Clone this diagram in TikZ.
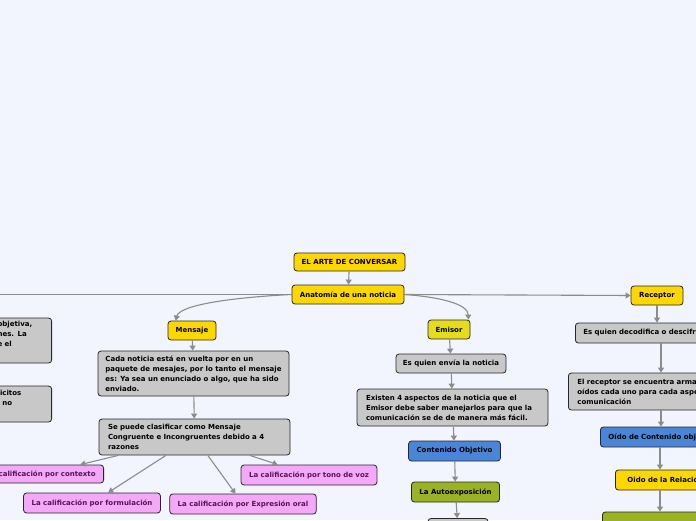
\documentclass[tikz,border=0pt]{standalone}
\usepackage{fontspec}
\setmainfont{DejaVu Sans}
\usepackage{xcolor}
\usepackage{tikz}
\usetikzlibrary{arrows.meta,positioning,calc}

\definecolor{bgcol}{RGB}{242,244,254}
\definecolor{topicyel}{RGB}{255,215,0}
\definecolor{emisyel}{RGB}{230,220,30}
\definecolor{notegray}{RGB}{200,200,200}
\definecolor{calpink}{RGB}{244,168,248}
\definecolor{caltext}{RGB}{85,20,85}
\definecolor{oidblue}{RGB}{74,134,216}
\definecolor{olive}{RGB}{154,178,36}
\definecolor{edgecol}{RGB}{40,40,40}
\definecolor{linkgray}{RGB}{140,140,140}

\begin{document}
\begin{tikzpicture}[
    x=1pt, y=-1pt,
    font=\fontsize{7}{10}\selectfont\bfseries,
    topic/.style={rectangle, rounded corners=3pt, minimum height=19pt, inner xsep=7pt, align=center, draw=edgecol, line width=0.8pt, fill=topicyel},
    note/.style={rectangle, rounded corners=3pt, align=left, draw=edgecol, line width=0.8pt, fill=notegray},
    calif/.style={rectangle, rounded corners=3pt, minimum height=20pt, inner xsep=8pt, draw=edgecol, line width=0.8pt, fill=calpink, text=caltext},
    aspect/.style={rectangle, rounded corners=3pt, minimum height=20pt, inner xsep=8pt, draw=edgecol, line width=0.8pt},
    arrow/.style={-{Triangle[width=6pt,length=5pt]}, linkgray, line width=1.1pt},
    link/.style={linkgray, line width=1.1pt},
]
\fill[bgcol] (0,0) rectangle (696,520);
\useasboundingbox (0,0) rectangle (696,520);
\clip (0,0) rectangle (696,520);

% Root
\node[topic, minimum width=111pt, minimum height=18pt] (arte) at (349.5,262) {EL ARTE DE CONVERSAR};
\node[topic, minimum width=112pt] (anat) at (348,294.5) {Anatomía de una noticia};
\draw[arrow] (arte) -- (anat);

% Branch to the left, off the page
\coordinate (leftend) at (-10,294.5);
\draw[link] (anat.west) -- (leftend);

% Left notes (cut by the page edge)
\node[note, anchor=east, text width=48pt, inner xsep=6pt, minimum height=45pt] (left1) at (52,340.5) {objetiva,\\nes. La\\e el\\\strut};
\node[note, anchor=east, text width=48pt, inner xsep=6pt, minimum height=36pt] (left2) at (52,404) {licitos\\l no\\\strut};

% Mensaje
\node[topic, minimum width=48pt] (mens) at (192,330.5) {Mensaje};
\draw[arrow] (anat.west) .. controls (240,297) and (180,304) .. ([xshift=8pt]mens.north west);

\node[note, minimum width=191pt, minimum height=45pt] (cada) at (193.5,373.5) {Cada noticia está en vuelta por en un\\paquete de mesajes, por lo tanto el mensaje\\es: Ya sea un enunciado o algo, que ha sido\\enviado.};
\draw[arrow] (mens) -- (cada);

\node[note, text width=173pt, inner xsep=9pt, minimum height=36pt] (clasif) at (194.5,437) {Se puede clasificar como Mensaje\\Congruente e Incongruentes debido a 4\\razones};
\draw[arrow] (cada) -- (clasif);

% Calificaciones
\node[calif, anchor=east, minimum height=18pt] (ctx) at (104,474) {La calificación por contexto};
\node[calif, minimum width=136pt] (form) at (92,503) {La calificación por formulación};
\node[calif, minimum width=146pt] (expr) at (243,504) {La calificación por Expresión oral};
\node[calif, minimum width=134pt] (tono) at (309,475) {La calificación por tono de voz};
\draw[arrow] (clasif) -- (ctx);
\draw[arrow] (clasif) -- (form);
\draw[arrow] (clasif) -- (expr);
\draw[arrow] (clasif) -- (tono);

% Emisor
\node[topic, fill=emisyel, minimum width=42pt] (emis) at (449,329.5) {Emisor};
\draw[arrow] (anat.east) .. controls (440,297) and (468,304) .. ([xshift=-2pt]emis.north east);

\node[note, align=center, minimum width=110pt, minimum height=19pt] (envia) at (451,363.5) {Es quien envía la noticia};
\draw[arrow] (emis) -- (envia);

\node[note, text width=173pt, inner xsep=9pt, minimum height=37pt] (exist) at (452.5,407.5) {Existen 4 aspectos de la noticia que el\\Emisor debe saber manejarlos para que la\\comunicación se de de manera más fácil.};
\draw[arrow] (envia) -- (exist);

\node[aspect, fill=oidblue, minimum width=91pt] (cont) at (454.5,451) {Contenido Objetivo};
\draw[arrow] (exist) -- (cont);

\node[aspect, fill=olive, minimum width=87pt] (auto) at (455.5,492) {La Autoexposición};
\draw[arrow] (cont) -- (auto);

\node[aspect, fill=notegray, minimum width=60pt, minimum height=24pt] (sigue) at (458,530.5) {};
\draw[arrow] (auto) -- (sigue);

% Receptor
\node[topic, minimum width=52pt] (recp) at (657,295.5) {Receptor};
\draw[arrow] (anat.east) -- (recp.west);

\coordinate (rcol) at (661,0);
\node[note, anchor=west, text width=190pt, inner xsep=8pt, minimum height=20pt] (deco) at (575,333) {Es quien decodifica o descifra la noticia};
\draw[arrow] (recp) -- (recp |- deco.north);

\node[note, anchor=west, text width=190pt, inner xsep=9pt, minimum height=37pt] (recarm) at (568,391.5) {El receptor se encuentra armado con cuatro\\oídos cada uno para cada aspecto de la\\comunicación};
\draw[arrow] (rcol |- deco.south) -- (rcol |- recarm.north);

\node[aspect, fill=oidblue, anchor=west, minimum width=140pt, align=left] (oidc) at (600,437) {Oído de Contenido objetivo\hspace*{20pt}};
\draw[arrow] (rcol |- recarm.south) -- (rcol |- oidc.north);

\node[aspect, fill=topicyel, anchor=west, minimum width=120pt] (oidr) at (615,480) {Oido de la Relación\hspace*{20pt}};
\draw[arrow] ([xshift=-1pt]rcol |- oidc.south) -- ([xshift=-1pt]rcol |- oidr.north);

\node[aspect, fill=olive, anchor=west, minimum width=140pt, minimum height=24pt] (oida) at (602,524) {};
\draw[arrow] ([xshift=-1pt]rcol |- oidr.south) -- ([xshift=-1pt]rcol |- oida.north);
\end{tikzpicture}
\end{document}
